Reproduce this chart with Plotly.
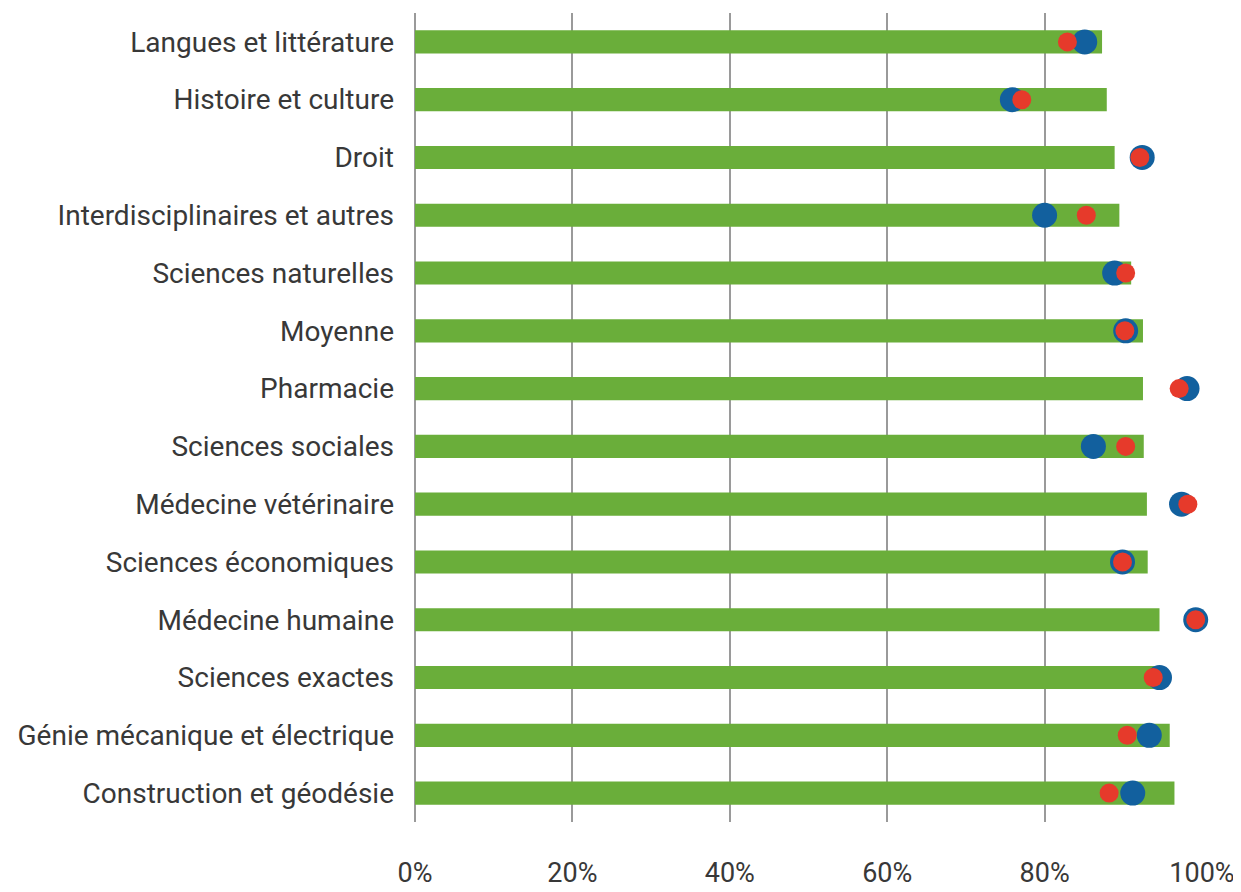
import plotly.graph_objects as go

categories = [
    "Langues et littérature",
    "Histoire et culture",
    "Droit",
    "Interdisciplinaires et autres",
    "Sciences naturelles",
    "Moyenne",
    "Pharmacie",
    "Sciences sociales",
    "Médecine vétérinaire",
    "Sciences économiques",
    "Médecine humaine",
    "Sciences exactes",
    "Génie mécanique et électrique",
    "Construction et géodésie",
]
bar_values = [87.3, 87.9, 88.9, 89.5, 91.0, 92.5, 92.5, 92.6, 93.0, 93.1, 94.6, 94.5, 95.9, 96.5]
blue_values = [85.1, 75.9, 92.4, 80.0, 88.9, 90.3, 98.1, 86.2, 97.4, 89.9, 99.2, 94.6, 93.3, 91.2]
red_values = [82.9, 77.1, 92.1, 85.3, 90.3, 90.2, 97.1, 90.3, 98.2, 89.9, 99.2, 93.8, 90.5, 88.2]
x_ticks = [0, 20, 40, 60, 80, 100]
x_ticklabels = ["0%", "20%", "40%", "60%", "80%", "100%"]

green = "#6aae3a"
blue = "#12609e"
red = "#e63a2b"
font_family = "Roboto"

fig = go.Figure()
fig.add_trace(go.Bar(
    x=bar_values, y=categories, orientation="h",
    marker=dict(color=green, line=dict(width=0)),
    width=0.4, showlegend=False,
))
fig.add_trace(go.Scatter(
    x=blue_values, y=categories, mode="markers",
    marker=dict(color=blue, size=25, line=dict(width=0)),
    showlegend=False, cliponaxis=False,
))
fig.add_trace(go.Scatter(
    x=red_values, y=categories, mode="markers",
    marker=dict(color=red, size=19, line=dict(width=0)),
    showlegend=False, cliponaxis=False,
))

# the page body has an 8px margin, so the figure is a bit smaller than the window
fig.update_layout(
    width=1233, height=884,
    margin=dict(l=407, r=39, t=5, b=70),
    plot_bgcolor="white", paper_bgcolor="white",
    font=dict(family=font_family, size=28, color="#383838"),
    bargap=0.6,
)
fig.update_xaxes(
    range=[0, 100], tickvals=x_ticks, ticktext=x_ticklabels,
    showgrid=True, gridcolor="#9a9a9a", gridwidth=2,
    zeroline=True, zerolinecolor="#9a9a9a", zerolinewidth=2,
    showline=False, ticks="", ticklabelstandoff=32, automargin=False,
    tickfont=dict(size=27, color="#383838"),
)
fig.update_yaxes(
    categoryorder="array", categoryarray=categories[::-1],
    range=[-0.5, len(categories) - 0.5],
    showgrid=False, zeroline=False, showline=False, ticks="",
    ticklabelstandoff=20, automargin=False,
)

fig.write_html("out.html")
